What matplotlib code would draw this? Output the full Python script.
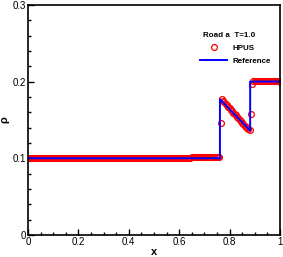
import numpy as np
import matplotlib.pyplot as plt
from matplotlib.ticker import MultipleLocator

plt.rcParams['font.family'] = ['Liberation Sans', 'DejaVu Sans']

# HPUS solution on a uniform grid (run lengths + explicit values)
x_hpus = np.linspace(0.0, 1.0, 201)
rho_hpus = ([0.1] * 130 + [0.101] * 23 + [0.146]
            + [0.177, 0.175, 0.173, 0.171, 0.169, 0.167, 0.165, 0.163, 0.161, 0.159, 0.158, 0.156,
               0.154, 0.152, 0.150, 0.148, 0.146, 0.144, 0.142, 0.141, 0.139, 0.138, 0.137]
            + [0.158, 0.197] + [0.201] * 21 + [0.199])

# exact (reference) solution breakpoints
x_ref = [0.0, 0.762, 0.762, 0.882, 0.882, 1.0]
rho_ref = [0.1, 0.1, 0.177, 0.136, 0.2, 0.2]

xticks = [0, 0.2, 0.4, 0.6, 0.8, 1.0]
xtick_labels = ['0', '0.2', '0.4', '0.6', '0.8', '1']
yticks = [0, 0.1, 0.2, 0.3]
ytick_labels = ['0', '0.1', '0.2', '0.3']

fig = plt.figure(figsize=(2.83, 2.57), dpi=100)
ax = fig.add_axes([0.099, 0.086, 0.890, 0.895])

ax.plot(x_hpus, rho_hpus, 'o', ms=4.2, mfc='none', mec='red', mew=0.9, label='HPUS')
ax.plot(x_ref, rho_ref, color='blue', lw=1.4, label='Reference')

ax.set_xlim(0, 1)
ax.set_ylim(0, 0.3)
ax.set_xticks(xticks)
ax.set_xticklabels(xtick_labels, fontsize=7)
ax.set_yticks(yticks)
ax.set_yticklabels(ytick_labels, fontsize=7)
ax.xaxis.set_minor_locator(MultipleLocator(0.05))
ax.yaxis.set_minor_locator(MultipleLocator(0.02))
ax.tick_params(which='both', direction='in', width=1)
ax.tick_params(which='major', length=4, pad=1.5)
ax.tick_params(which='minor', length=2)
for s in ax.spines.values():
    s.set_linewidth(1.2)

ax.set_xlabel('x', fontsize=8, fontweight='bold', labelpad=0)
ax.set_ylabel('ρ', fontsize=8, fontweight='bold', labelpad=2)

leg = ax.legend(title='Road a  T=1.0', frameon=False, fontsize=5.8, title_fontsize=5.8,
                loc='upper right', bbox_to_anchor=(0.985, 0.905), handlelength=3.4,
                labelspacing=0.65, handletextpad=0.6, borderpad=0.2)
leg.get_title().set_fontweight('bold')
leg.get_title().set_position((-6, 0))
for t in leg.get_texts():
    t.set_fontweight('bold')

fig.savefig('out.png', dpi=100)
